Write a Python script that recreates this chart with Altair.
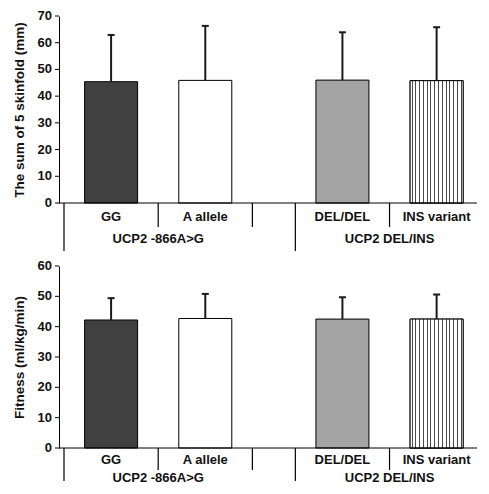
import altair as alt
import pandas as pd

# ---- data ----
categories = ["GG", "A allele", "DEL/DEL", "INS variant"]
groups = ["UCP2 -866A>G", "UCP2 -866A>G", "UCP2 DEL/INS", "UCP2 DEL/INS"]
skinfold_mean = [45.4, 45.9, 46.0, 45.8]
skinfold_sd = [17.5, 20.4, 17.9, 20.0]
fitness_mean = [42.2, 42.7, 42.5, 42.5]
fitness_sd = [7.2, 8.1, 7.2, 8.1]
skinfold_ticks = [0, 10, 20, 30, 40, 50, 60, 70]
fitness_ticks = [0, 10, 20, 30, 40, 50, 60]
bar_colors = ["#404040", "#ffffff", "#a3a3a3", "#ffffff"]

# ---- layout constants ----
GAP = 0.456          # extra gap between the two genotype groups (in slot units)
W = 418              # plot width
SLOT = 96.5          # pixels per category slot
X0 = 0.5
X1 = X0 + W / SLOT
FONT = "Liberation Sans"

group_names = list(dict.fromkeys(groups))
pos = [1 + i + GAP * group_names.index(g) for i, g in enumerate(groups)]

group_starts = [min(p for p, g in zip(pos, groups) if g == gn) - 0.5 for gn in group_names]
group_centers = [(min(p for p, g in zip(pos, groups) if g == gn) - 0.5 +
                  max(p for p, g in zip(pos, groups) if g == gn) + 0.5) / 2 for gn in group_names]
short_seps = [p + 0.5 for p in pos[:-1]]

# striped fill (vertical lines) as a gradient
n_stripes = 14
stops = [{"offset": 0, "color": "#ffffff"}]
hw = 0.5 / 53
for k in range(n_stripes):
    o = (k + 0.5) / n_stripes
    stops += [
        {"offset": o - hw, "color": "#ffffff"},
        {"offset": o - hw, "color": "#4a4a4a"},
        {"offset": o + hw, "color": "#4a4a4a"},
        {"offset": o + hw, "color": "#ffffff"},
    ]
stops.append({"offset": 1, "color": "#ffffff"})
stripe_fill = {"gradient": "linear", "x1": 0, "y1": 0, "x2": 1, "y2": 0, "stops": stops}


def panel(means, sds, ticks, ytitle, H, short_len, long_len, lab_off, grp_off):
    ymax = ticks[-1]
    df = pd.DataFrame({
        "cat": categories,
        "pos": pos,
        "mean": means,
        "upper": [m + s for m, s in zip(means, sds)],
        "color": bar_colors,
    })
    x = alt.X("pos:Q", scale=alt.Scale(domain=[X0, X1], nice=False, zero=False), axis=None)
    yscale = alt.Scale(domain=[0, ymax], nice=False, zero=True)
    yaxis = alt.Axis(
        title=ytitle, grid=False, labels=False, ticks=False,
        domainColor="black", domainWidth=1,
        titleFont=FONT, titleFontSize=13.5, titleFontWeight="bold", titleColor="#111",
        titlePadding=33,
    )

    def Y(field):
        return alt.Y(field, scale=yscale, axis=yaxis)

    base = alt.Chart(df)
    bars = base.mark_bar(size=53, stroke="black", strokeWidth=1, orient="vertical").encode(
        x=x, y=Y("mean:Q"), y2=alt.datum(0), fill=alt.Fill("color:N", scale=None)
    )
    striped = base.transform_filter(alt.datum.cat == "INS variant").mark_bar(
        size=53, stroke="black", strokeWidth=1, fill=stripe_fill, orient="vertical"
    ).encode(x=x, y=Y("mean:Q"), y2=alt.datum(0))
    err = base.mark_rule(strokeWidth=2, color="#1a1a1a").encode(x=x, y=Y("mean:Q"), y2="upper:Q")
    cap = base.mark_rule(strokeWidth=2, color="#1a1a1a", xOffset=-3.5, x2Offset=3.5).encode(
        x=x, x2="pos:Q", y=Y("upper:Q")
    )
    tick_df = pd.DataFrame({"t": ticks})
    ytick_marks = alt.Chart(tick_df).mark_rule(color="black", strokeWidth=1).encode(
        y=Y("t:Q"), x=alt.value(-4), x2=alt.value(0)
    )
    ytick_labels = alt.Chart(tick_df).mark_text(
        font=FONT, fontSize=13, fontWeight="bold", color="#111", align="right", baseline="middle"
    ).encode(y=Y("t:Q"), x=alt.value(-7), text="t:Q")
    axis_line = alt.Chart(pd.DataFrame({"z": [0]})).mark_rule(color="black", strokeWidth=1).encode(
        y=Y("z:Q"), x=alt.value(0), x2=alt.value(W)
    )
    short_df = pd.DataFrame({"pos": short_seps})
    long_df = pd.DataFrame({"pos": group_starts})
    short_lines = alt.Chart(short_df).mark_rule(color="black", strokeWidth=1.2).encode(
        x=x, y=alt.value(H), y2=alt.value(H + short_len)
    )
    long_lines = alt.Chart(long_df).mark_rule(color="black", strokeWidth=1.2).encode(
        x=x, y=alt.value(H), y2=alt.value(H + long_len)
    )
    cat_text = base.mark_text(font=FONT, fontSize=13, fontWeight="bold", color="#111",
                              baseline="middle").encode(x=x, y=alt.value(H + lab_off), text="cat:N")
    grp_df = pd.DataFrame({"pos": group_centers, "g": group_names})
    grp_text = alt.Chart(grp_df).mark_text(font=FONT, fontSize=13, fontWeight="bold", color="#111",
                                           baseline="middle").encode(x=x, y=alt.value(H + grp_off), text="g:N")
    return alt.layer(bars, striped, err, cap, ytick_marks, ytick_labels, axis_line,
                     short_lines, long_lines, cat_text, grp_text).properties(width=W, height=H)


top = panel(skinfold_mean, skinfold_sd, skinfold_ticks, "The sum of 5 skinfold (mm)", 187, 24, 48, 14, 36)
bottom = panel(fitness_mean, fitness_sd, fitness_ticks, "Fitness (ml/kg/min)", 182, 22, 33, 12, 30)

chart = alt.vconcat(top, bottom, spacing=8).properties(
    padding={"left": 4, "top": 2, "right": 0, "bottom": 0}
).configure_view(stroke=None)

chart.save("out.html", embed_options={"renderer": "svg", "actions": False})
